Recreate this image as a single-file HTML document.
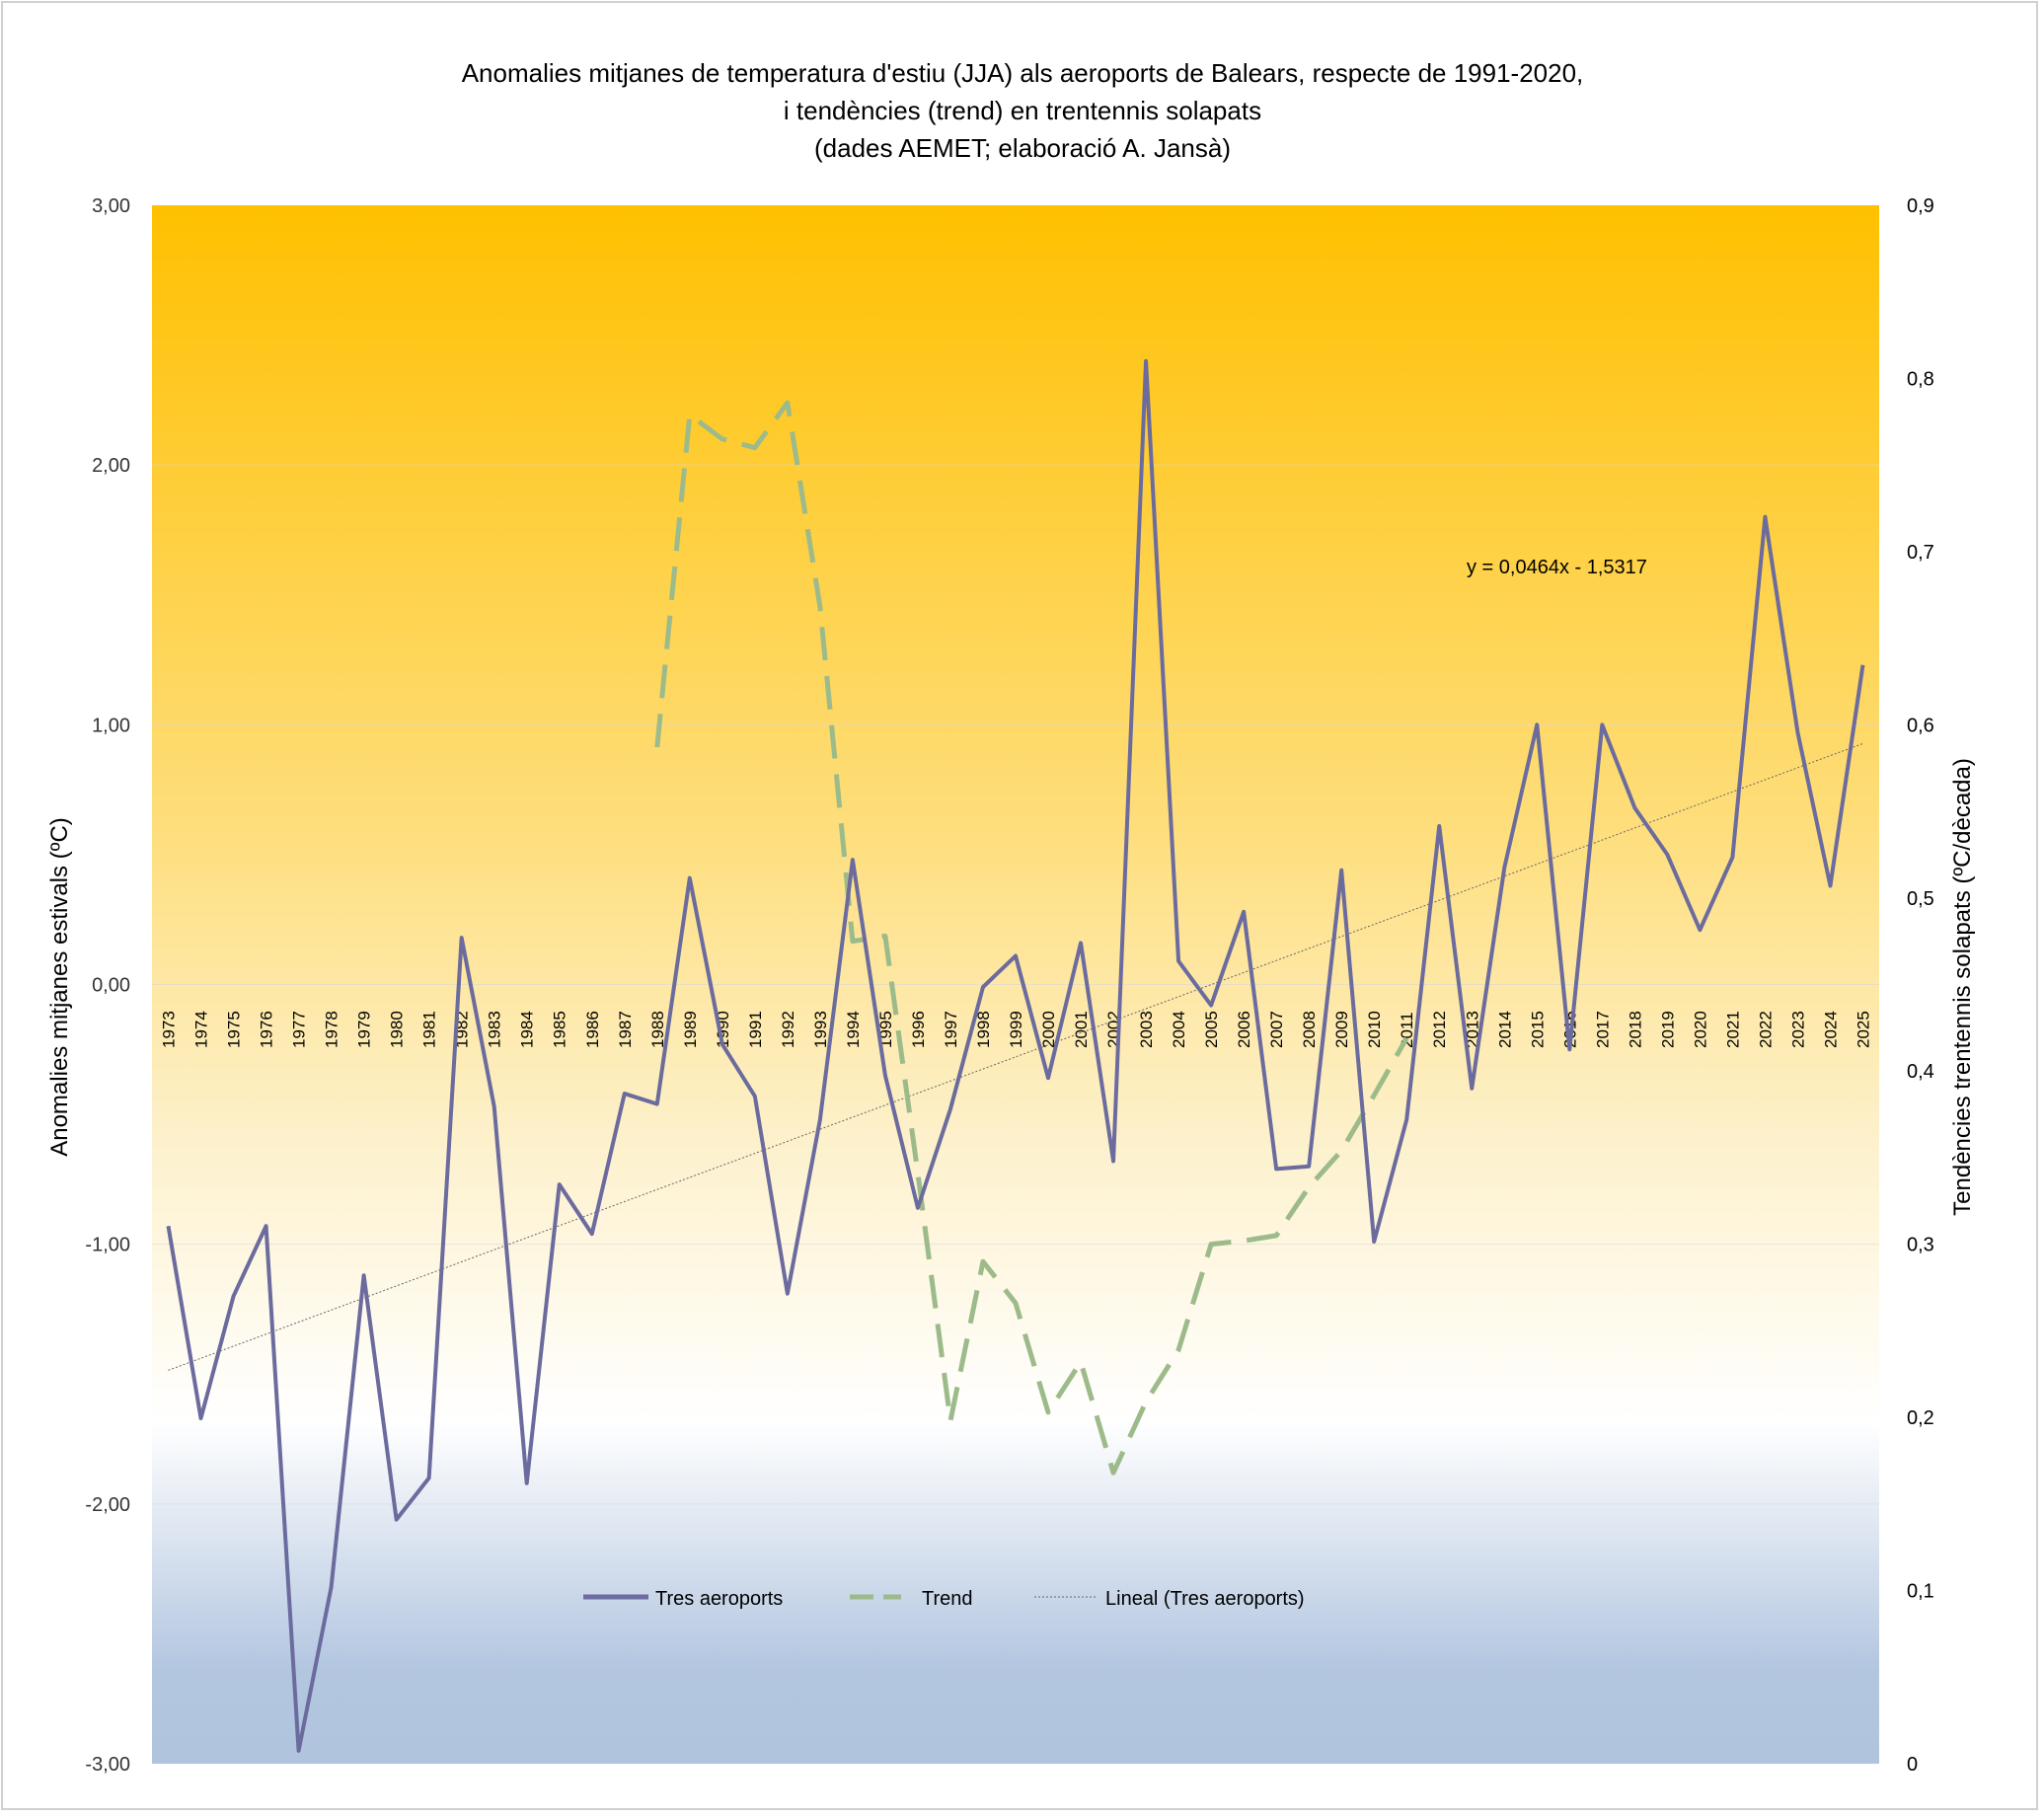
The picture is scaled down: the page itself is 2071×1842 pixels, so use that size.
<!DOCTYPE html>
<html><head><meta charset="utf-8"><style>
html,body{margin:0;padding:0;background:#fff;}
svg{display:block;font-family:"Liberation Sans","DejaVu Sans",sans-serif;}
</style></head><body>
<svg id="c" width="2071" height="1842" viewBox="0 0 2071 1842" xmlns="http://www.w3.org/2000/svg">
<defs>
<linearGradient id="bg" x1="0" y1="0" x2="0" y2="1">
<stop offset="0" stop-color="#FFC000"/>
<stop offset="0.4" stop-color="#FEDE7C"/>
<stop offset="0.6" stop-color="#FDF1CC"/>
<stop offset="0.78" stop-color="#FFFFFF"/>
<stop offset="0.94" stop-color="#B3C6E0"/>
<stop offset="1" stop-color="#B0C4DE"/>
</linearGradient>
</defs>
<rect x="2" y="2" width="2062" height="1831" fill="#fff" stroke="#d0d0d0" stroke-width="2"/>
<rect x="154" y="208" width="1750" height="1579" fill="url(#bg)"/>
<g id="grid" stroke="#d9d9d9" stroke-width="1" opacity="0.6"></g>
<text x="1036" y="83" font-size="26" text-anchor="middle" fill="#000">Anomalies mitjanes de temperatura d'estiu (JJA) als aeroports de Balears, respecte de 1991-2020,</text>
<text x="1036" y="121" font-size="26" text-anchor="middle" fill="#000">i tendències (trend) en trentennis solapats</text>
<text x="1036" y="159" font-size="26" text-anchor="middle" fill="#000">(dades AEMET; elaboració A. Jansà)</text>
<g id="ylab" font-size="20" fill="#333"></g>
<text transform="translate(68,1000) rotate(-90)" font-size="24" text-anchor="middle" fill="#000">Anomalies mitjanes estivals (ºC)</text>
<text transform="translate(1996,1000) rotate(-90)" font-size="24" text-anchor="middle" fill="#000">Tendències trentennis solapats (ºC/dècada)</text>
<g id="xlab" font-size="17" fill="#000"></g>
<g id="series"></g>
<text x="1486" y="581" font-size="20" fill="#000">y = 0,0464x - 1,5317</text>
<line x1="591" y1="1618" x2="657" y2="1618" stroke="#6B6B9E" stroke-width="5"/>
<text x="664" y="1626" font-size="20" fill="#000">Tres aeroports</text>
<line x1="861" y1="1618" x2="913" y2="1618" stroke="#9DBB8A" stroke-width="5" stroke-dasharray="24,10"/>
<text x="934" y="1626" font-size="20" fill="#000">Trend</text>
<line x1="1048" y1="1618" x2="1111" y2="1618" stroke="#666" stroke-width="1" stroke-dasharray="2,2"/>
<text x="1120" y="1626" font-size="20" fill="#000">Lineal (Tres aeroports)</text>
</svg>
<script>
const NS="http://www.w3.org/2000/svg";
function el(p,t,a,txt){const e=document.createElementNS(NS,t);for(const k in a)e.setAttribute(k,a[k]);if(txt!==undefined)e.textContent=txt;p.appendChild(e);return e;}
const L=154,W=1750,T=208,H=1579,n=53,cw=W/n;
const yl=v=>T+(3-v)/6*H, yr=v=>T+(0.9-v)/0.9*H, xc=i=>L+cw*(i+0.5);
const g=document.getElementById('grid'),yg=document.getElementById('ylab'),xg=document.getElementById('xlab'),s=document.getElementById('series');
for(let v=-3;v<=3;v++){const y=yl(v);if(v>-3&&v<3)el(g,'line',{x1:L,x2:L+W,y1:y,y2:y});
el(yg,'text',{x:132,y:y+7,'text-anchor':'end'},(v<0?'-':'')+Math.abs(v)+',00');}
for(let k=0;k<=9;k++){const v=k/10;el(yg,'text',{x:1932,y:yr(v)+7,fill:'#000'},k==0?'0':'0,'+k);}
for(let i=0;i<n;i++){const x=xc(i)+6;el(xg,'text',{transform:`translate(${x},1062) rotate(-90)`},String(1973+i));}
const d=[-0.93,-1.67,-1.20,-0.93,-2.95,-2.32,-1.12,-2.06,-1.90,0.18,-0.47,-1.92,-0.77,-0.96,-0.42,-0.46,0.41,-0.23,-0.43,-1.19,-0.52,0.48,-0.35,-0.86,-0.48,-0.01,0.11,-0.36,0.16,-0.68,2.40,0.09,-0.08,0.28,-0.71,-0.70,0.44,-0.99,-0.52,0.61,-0.40,0.45,1.00,-0.25,1.00,0.68,0.50,0.21,0.49,1.80,0.97,0.38,1.23];
const tr=[0.587,0.779,0.765,0.760,0.786,0.668,0.475,0.478,0.341,0.198,0.29,0.266,0.203,0.232,0.168,0.209,0.239,0.30,0.302,0.305,0.333,0.354,0.386,0.419];
el(s,'line',{x1:xc(0),y1:yl(0.0464-1.5317),x2:xc(52),y2:yl(0.0464*53-1.5317),stroke:'#666','stroke-width':1,'stroke-dasharray':'2,2'});
el(s,'polyline',{points:tr.map((v,i)=>xc(15+i)+','+yr(v)).join(' '),fill:'none',stroke:'#9DBB8A','stroke-width':5,'stroke-dasharray':'34,16','stroke-linejoin':'round'});
el(s,'polyline',{points:d.map((v,i)=>xc(i)+','+yl(v)).join(' '),fill:'none',stroke:'#6B6B9E','stroke-width':4,'stroke-linejoin':'round'});
</script>
</body></html>
